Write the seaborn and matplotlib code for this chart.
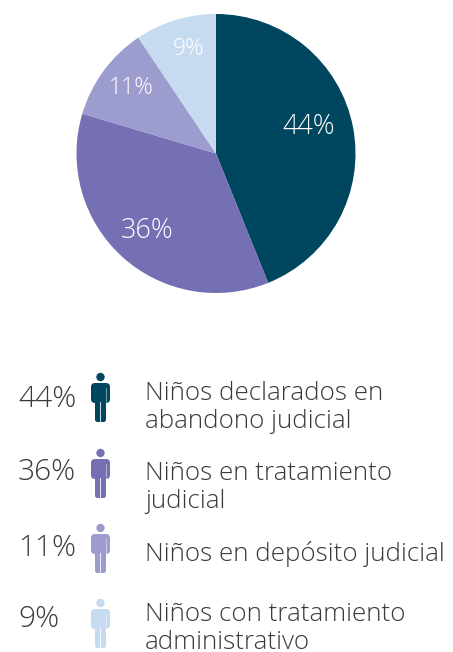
import matplotlib
matplotlib.use("Agg")
import matplotlib.pyplot as plt
from matplotlib.patches import Circle, FancyBboxPatch, Rectangle
import seaborn as sns

values = [43.9, 35.7, 11.0, 9.4]
pct_labels = ["44%", "36%", "11%", "9%"]
colors = ["#00465F", "#7470B3", "#9D9CCF", "#C7DBF0"]
legend_labels = [
    "Niños declarados en\nabandono judicial",
    "Niños en tratamiento\njudicial",
    "Niños en depósito judicial",
    "Niños con tratamiento\nadministrativo",
]
pie_label_pos = [(309, 127), (147, 231), (131, 88), (189, 49)]
pie_label_sizes = [19.5, 19.5, 16.5, 16.5]
pct_pos = [(18, 407), (18, 480), (18, 556), (18, 627)]
label_first_baseline = [400, 480, 561, 621]
head_y = [377, 453, 528, 603]

sns.set_theme(style="white")
plt.rcParams["font.family"] = ["Open Sans", "DejaVu Sans"]
W, H = 453, 652
FS = 18.7
LINE = 28
TXT = "#3A3A3A"

fig = plt.figure(figsize=(W / 100, H / 100), dpi=100, facecolor="white")

# Pie: centre (216,153.5), radius 139.5 px
R, cx, cy = 139.5, 216, 153.5
ax = fig.add_axes([(cx - R) / W, 1 - (cy + R) / H, 2 * R / W, 2 * R / H])
ax.pie(values, colors=sns.color_palette(colors), startangle=90, counterclock=False,
       radius=1, wedgeprops=dict(linewidth=0))
ax.set_xlim(-1, 1)
ax.set_ylim(-1, 1)
ax.set_aspect("equal")

# Overlay in pixel coordinates
ov = fig.add_axes([0, 0, 1, 1], facecolor="none")
ov.set_xlim(0, W)
ov.set_ylim(H, 0)
ov.axis("off")


def person(a, x, y, c):
    a.add_patch(Circle((x, y), 4.2, fc=c, ec="none"))
    a.add_patch(FancyBboxPatch((x - 9.5, y + 6), 19, 20, boxstyle="round,pad=0,rounding_size=4",
                               fc=c, ec="none"))
    a.add_patch(FancyBboxPatch((x - 5.5, y + 9), 11, 36, boxstyle="round,pad=0,rounding_size=2.5",
                               fc=c, ec="none"))
    a.add_patch(Rectangle((x - 6, y + 11), 0.8, 15.5, fc="white", ec="none", alpha=0.45))
    a.add_patch(Rectangle((x + 5.2, y + 11), 0.8, 15.5, fc="white", ec="none", alpha=0.45))
    a.add_patch(Rectangle((x - 0.4, y + 25), 0.8, 21, fc="white", ec="none", alpha=0.8))


for lab, (x, y), size in zip(pct_labels, pie_label_pos, pie_label_sizes):
    ov.text(x, y, lab, color="white", fontsize=size, ha="center", va="center", fontweight=300)

for i in range(4):
    ov.text(pct_pos[i][0], pct_pos[i][1], pct_labels[i], color=TXT, fontsize=21.5,
            ha="left", va="baseline", fontweight=300)
    person(ov, 100.5, head_y[i], colors[i])
    for j, line in enumerate(legend_labels[i].split("\n")):
        ov.text(145, label_first_baseline[i] + j * LINE, line, color=TXT, fontsize=FS,
                ha="left", va="baseline", fontweight=300)

fig.savefig("out.png", dpi=100, facecolor="white")
